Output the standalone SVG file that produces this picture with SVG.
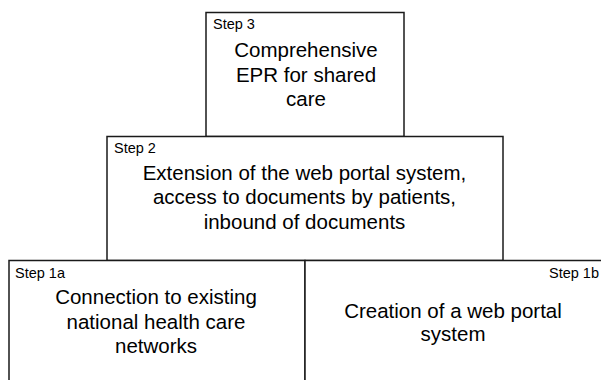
<svg xmlns="http://www.w3.org/2000/svg" width="601" height="380" viewBox="0 0 601 380">
<style>
.box{fill:#fff;stroke:#1a1a1a;stroke-width:1.5}
.lbl{font-family:"Liberation Sans",Arial,sans-serif;font-size:14.5px;fill:#000}
.txt{font-family:"Liberation Sans",Arial,sans-serif;font-size:20.5px;fill:#000;text-anchor:middle}
</style>
<rect width="601" height="380" fill="#fff"/>
<g id="connectors"></g>
<g id="step3">
<rect class="box" x="206" y="12.5" width="198" height="124"/>
<text class="lbl" x="213" y="29">Step 3</text>
<text class="txt" x="306" y="57">Comprehensive</text>
<text class="txt" x="306" y="82">EPR for shared</text>
<text class="txt" x="306" y="106">care</text>
</g>
<g id="step2">
<rect class="box" x="107" y="136.5" width="396" height="124"/>
<text class="lbl" x="114" y="153">Step 2</text>
<text class="txt" x="304.5" y="180">Extension of the web portal system,</text>
<text class="txt" x="304.5" y="204">access to documents by patients,</text>
<text class="txt" x="304.5" y="229">inbound of documents</text>
</g>
<g id="step1a">
<rect class="box" x="9" y="260.5" width="296" height="130"/>
<text class="lbl" x="15" y="278">Step 1a</text>
<text class="txt" x="156" y="304">Connection to existing</text>
<text class="txt" x="156" y="329">national health care</text>
<text class="txt" x="156" y="353">networks</text>
</g>
<g id="step1b">
<rect class="box" x="305" y="260.5" width="310" height="130"/>
<text class="lbl" x="599" y="278" text-anchor="end">Step 1b</text>
<text class="txt" x="453" y="318">Creation of a web portal</text>
<text class="txt" x="453" y="341">system</text>
</g>
</svg>
